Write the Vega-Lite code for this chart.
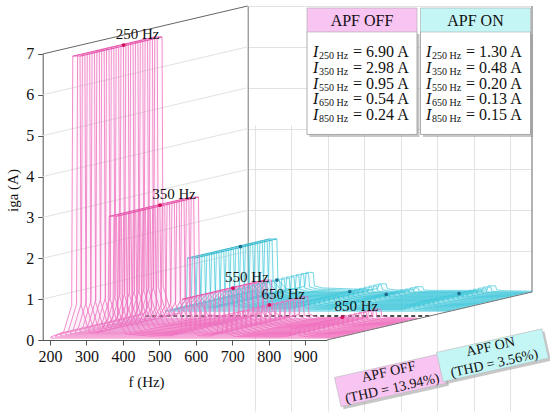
{
  "$schema": "https://vega.github.io/schema/vega-lite/v6.json",
  "width": 550,
  "height": 417,
  "autosize": "none",
  "padding": 0,
  "background": "white",
  "config": {
    "view": {"stroke": null},
    "font": "Liberation Serif",
    "axis": {"labelFont": "Liberation Serif", "titleFont": "Liberation Serif"},
    "style": {"guide-label": {"font": "Liberation Serif"}, "guide-title": {"font": "Liberation Serif"}}
  },
  "datasets": {
    "off": [
      {"f": 180, "A": 0.03}, {"f": 200, "A": 0.1}, {"f": 215, "A": 0.15}, {"f": 237, "A": 0.8}, {"f": 240, "A": 6.9},
      {"f": 260, "A": 6.9}, {"f": 263, "A": 0.8}, {"f": 285, "A": 0.15}, {"f": 300, "A": 0.12}, {"f": 315, "A": 0.15},
      {"f": 337, "A": 0.5}, {"f": 340, "A": 2.98}, {"f": 360, "A": 2.98}, {"f": 363, "A": 0.5}, {"f": 385, "A": 0.1},
      {"f": 450, "A": 0.05}, {"f": 515, "A": 0.06}, {"f": 537, "A": 0.2}, {"f": 540, "A": 0.95}, {"f": 560, "A": 0.95},
      {"f": 563, "A": 0.2}, {"f": 585, "A": 0.06}, {"f": 615, "A": 0.05}, {"f": 637, "A": 0.12}, {"f": 640, "A": 0.54},
      {"f": 660, "A": 0.54}, {"f": 663, "A": 0.12}, {"f": 685, "A": 0.04}, {"f": 750, "A": 0.03}, {"f": 815, "A": 0.03},
      {"f": 837, "A": 0.06}, {"f": 840, "A": 0.24}, {"f": 860, "A": 0.24}, {"f": 863, "A": 0.06}, {"f": 885, "A": 0.03},
      {"f": 960, "A": 0.02}
    ],
    "on": [
      {"f": 180, "A": 0.02}, {"f": 215, "A": 0.05}, {"f": 237, "A": 0.3}, {"f": 240, "A": 1.3}, {"f": 260, "A": 1.3},
      {"f": 263, "A": 0.3}, {"f": 285, "A": 0.08}, {"f": 315, "A": 0.08}, {"f": 337, "A": 0.15}, {"f": 340, "A": 0.48},
      {"f": 360, "A": 0.48}, {"f": 363, "A": 0.15}, {"f": 385, "A": 0.1}, {"f": 450, "A": 0.08}, {"f": 515, "A": 0.06},
      {"f": 537, "A": 0.08}, {"f": 540, "A": 0.2}, {"f": 560, "A": 0.2}, {"f": 563, "A": 0.08}, {"f": 585, "A": 0.05},
      {"f": 615, "A": 0.05}, {"f": 637, "A": 0.05}, {"f": 640, "A": 0.13}, {"f": 660, "A": 0.13}, {"f": 663, "A": 0.05},
      {"f": 685, "A": 0.04}, {"f": 815, "A": 0.04}, {"f": 837, "A": 0.05}, {"f": 840, "A": 0.15}, {"f": 860, "A": 0.15},
      {"f": 863, "A": 0.05}, {"f": 885, "A": 0.03}, {"f": 960, "A": 0.02}
    ],
    "peaksOff": [
      {"f": 250, "A": 6.9, "label": "250 Hz"}, {"f": 350, "A": 2.98, "label": "350 Hz"}, {"f": 550, "A": 0.95, "label": "550 Hz"},
      {"f": 650, "A": 0.54, "label": "650 Hz"}, {"f": 850, "A": 0.24, "label": "850 Hz"}
    ],
    "peaksOn": [
      {"f": 250, "A": 1.3}, {"f": 350, "A": 0.48}, {"f": 550, "A": 0.2}, {"f": 650, "A": 0.13}, {"f": 850, "A": 0.15}
    ],
    "floor": [{"f": 180, "A": 0}, {"f": 960, "A": 0}],
    "depth": [{"d": 0}, {"d": 1}],
    "depthOff": [{"d": 0.04}, {"d": 0.44}],
    "depthOn": [{"d": 0.6}, {"d": 1.0}],
    "headers": [{"col": 0, "series": "OFF", "name": "APF OFF"}, {"col": 1, "series": "ON", "name": "APF ON"}],
    "table": [
      {"col": 0, "row": 1, "sub": "250 Hz", "val": "= 6.90 A"}, {"col": 0, "row": 2, "sub": "350 Hz", "val": "= 2.98 A"},
      {"col": 0, "row": 3, "sub": "550 Hz", "val": "= 0.95 A"}, {"col": 0, "row": 4, "sub": "650 Hz", "val": "= 0.54 A"},
      {"col": 0, "row": 5, "sub": "850 Hz", "val": "= 0.24 A"}, {"col": 1, "row": 1, "sub": "250 Hz", "val": "= 1.30 A"},
      {"col": 1, "row": 2, "sub": "350 Hz", "val": "= 0.48 A"}, {"col": 1, "row": 3, "sub": "550 Hz", "val": "= 0.20 A"},
      {"col": 1, "row": 4, "sub": "650 Hz", "val": "= 0.13 A"}, {"col": 1, "row": 5, "sub": "850 Hz", "val": "= 0.15 A"}
    ],
    "thd": [{"k": 0, "series": "OFF", "name": "APF OFF\n(THD = 13.94%)"}, {"k": 1, "series": "ON", "name": "APF ON\n(THD = 3.56%)"}]
  },
  "resolve": {
    "scale": {"x": "independent", "y": "independent", "color": "independent"},
    "axis": {"x": "independent", "y": "independent"}
  },
  "layer": [
    {"data": {"name": "off"}, "mark": {"type": "point", "opacity": 0},
     "encoding": {
       "x": {"field": "f", "type": "quantitative", "scale": {"domain": [180, 960], "range": [247.7, 532], "nice": false, "zero": false},
             "axis": {"orient": "bottom", "offset": -125, "values": [200, 300, 400, 500, 600, 700, 800, 900], "grid": true, "gridColor": "#e2e2e2", "labels": false, "ticks": false, "domain": false, "title": null}},
       "y": {"field": "A", "type": "quantitative", "scale": {"domain": [0, 7], "range": [292, 6], "nice": false},
             "axis": {"orient": "left", "offset": -247.7, "values": [0, 1, 2, 3, 4, 5, 6, 7], "grid": true, "gridColor": "#e2e2e2", "labels": false, "ticks": false, "domain": true, "domainColor": "#777", "title": null}}}},
    {"data": {"name": "floor"}, "mark": {"type": "rule", "stroke": "#999", "strokeWidth": 1},
     "encoding": {"x": {"datum": 960, "type": "quantitative", "scale": {"domain": [180, 960], "range": [247.7, 532], "nice": false, "zero": false}, "axis": null},
                  "y": {"datum": 0, "type": "quantitative", "scale": {"domain": [0, 7], "range": [292, 6], "nice": false}, "axis": null},
                  "y2": {"datum": 7}}},
    {"data": {"name": "depth"}, "mark": {"type": "line", "stroke": "#e2e2e2", "strokeWidth": 1},
     "encoding": {"x": {"field": "d", "type": "quantitative", "scale": {"domain": [0, 1], "range": [42.7, 247.7], "nice": false, "zero": false}, "axis": null},
                  "y": {"field": "d", "type": "quantitative", "scale": {"domain": [0, 1], "range": [299.14, 251.14], "nice": false, "zero": false}, "axis": null}}},
    {"data": {"name": "depth"}, "mark": {"type": "line", "stroke": "#e2e2e2", "strokeWidth": 1},
     "encoding": {"x": {"field": "d", "type": "quantitative", "scale": {"domain": [0, 1], "range": [42.7, 247.7], "nice": false, "zero": false}, "axis": null},
                  "y": {"field": "d", "type": "quantitative", "scale": {"domain": [0, 1], "range": [258.28, 210.28], "nice": false, "zero": false}, "axis": null}}},
    {"data": {"name": "depth"}, "mark": {"type": "line", "stroke": "#e2e2e2", "strokeWidth": 1},
     "encoding": {"x": {"field": "d", "type": "quantitative", "scale": {"domain": [0, 1], "range": [42.7, 247.7], "nice": false, "zero": false}, "axis": null},
                  "y": {"field": "d", "type": "quantitative", "scale": {"domain": [0, 1], "range": [217.42, 169.42], "nice": false, "zero": false}, "axis": null}}},
    {"data": {"name": "depth"}, "mark": {"type": "line", "stroke": "#e2e2e2", "strokeWidth": 1},
     "encoding": {"x": {"field": "d", "type": "quantitative", "scale": {"domain": [0, 1], "range": [42.7, 247.7], "nice": false, "zero": false}, "axis": null},
                  "y": {"field": "d", "type": "quantitative", "scale": {"domain": [0, 1], "range": [176.56, 128.56], "nice": false, "zero": false}, "axis": null}}},
    {"data": {"name": "depth"}, "mark": {"type": "line", "stroke": "#e2e2e2", "strokeWidth": 1},
     "encoding": {"x": {"field": "d", "type": "quantitative", "scale": {"domain": [0, 1], "range": [42.7, 247.7], "nice": false, "zero": false}, "axis": null},
                  "y": {"field": "d", "type": "quantitative", "scale": {"domain": [0, 1], "range": [135.7, 87.7], "nice": false, "zero": false}, "axis": null}}},
    {"data": {"name": "depth"}, "mark": {"type": "line", "stroke": "#e2e2e2", "strokeWidth": 1},
     "encoding": {"x": {"field": "d", "type": "quantitative", "scale": {"domain": [0, 1], "range": [42.7, 247.7], "nice": false, "zero": false}, "axis": null},
                  "y": {"field": "d", "type": "quantitative", "scale": {"domain": [0, 1], "range": [94.84, 46.84], "nice": false, "zero": false}, "axis": null}}},
    {"data": {"name": "depth"}, "mark": {"type": "line", "stroke": "#666", "strokeWidth": 1},
     "encoding": {"x": {"field": "d", "type": "quantitative", "scale": {"domain": [0, 1], "range": [42.7, 247.7], "nice": false, "zero": false}, "axis": null},
                  "y": {"field": "d", "type": "quantitative", "scale": {"domain": [0, 1], "range": [53.98, 5.98], "nice": false, "zero": false}, "axis": null}}},

    {"data": {"name": "on"}, "mark": {"type": "area", "fill": "#8fe6ee", "fillOpacity": 0.05, "stroke": "#3cc6da", "strokeWidth": 0.7}, "encoding": {"x": {"field": "f", "type": "quantitative", "scale": {"domain": [180, 960], "range": [247.7, 532.0], "nice": false, "zero": false}, "axis": null}, "y": {"field": "A", "type": "quantitative", "scale": {"domain": [0, 7], "range": [292.0, 5.98], "nice": false}, "axis": null}}},
    {"data": {"name": "on"}, "mark": {"type": "area", "fill": "#8fe6ee", "fillOpacity": 0.05, "stroke": "#3cc6da", "strokeWidth": 0.7}, "encoding": {"x": {"field": "f", "type": "quantitative", "scale": {"domain": [180, 960], "range": [242.88, 527.18], "nice": false, "zero": false}, "axis": null}, "y": {"field": "A", "type": "quantitative", "scale": {"domain": [0, 7], "range": [293.13, 7.11], "nice": false}, "axis": null}}},
    {"data": {"name": "on"}, "mark": {"type": "area", "fill": "#8fe6ee", "fillOpacity": 0.05, "stroke": "#3cc6da", "strokeWidth": 0.7}, "encoding": {"x": {"field": "f", "type": "quantitative", "scale": {"domain": [180, 960], "range": [238.05, 522.35], "nice": false, "zero": false}, "axis": null}, "y": {"field": "A", "type": "quantitative", "scale": {"domain": [0, 7], "range": [294.26, 8.24], "nice": false}, "axis": null}}},
    {"data": {"name": "on"}, "mark": {"type": "area", "fill": "#8fe6ee", "fillOpacity": 0.05, "stroke": "#3cc6da", "strokeWidth": 0.7}, "encoding": {"x": {"field": "f", "type": "quantitative", "scale": {"domain": [180, 960], "range": [233.23, 517.53], "nice": false, "zero": false}, "axis": null}, "y": {"field": "A", "type": "quantitative", "scale": {"domain": [0, 7], "range": [295.39, 9.37], "nice": false}, "axis": null}}},
    {"data": {"name": "on"}, "mark": {"type": "area", "fill": "#8fe6ee", "fillOpacity": 0.05, "stroke": "#3cc6da", "strokeWidth": 0.7}, "encoding": {"x": {"field": "f", "type": "quantitative", "scale": {"domain": [180, 960], "range": [228.41, 512.71], "nice": false, "zero": false}, "axis": null}, "y": {"field": "A", "type": "quantitative", "scale": {"domain": [0, 7], "range": [296.52, 10.5], "nice": false}, "axis": null}}},
    {"data": {"name": "on"}, "mark": {"type": "area", "fill": "#8fe6ee", "fillOpacity": 0.05, "stroke": "#3cc6da", "strokeWidth": 0.7}, "encoding": {"x": {"field": "f", "type": "quantitative", "scale": {"domain": [180, 960], "range": [223.58, 507.88], "nice": false, "zero": false}, "axis": null}, "y": {"field": "A", "type": "quantitative", "scale": {"domain": [0, 7], "range": [297.65, 11.63], "nice": false}, "axis": null}}},
    {"data": {"name": "on"}, "mark": {"type": "area", "fill": "#8fe6ee", "fillOpacity": 0.05, "stroke": "#3cc6da", "strokeWidth": 0.7}, "encoding": {"x": {"field": "f", "type": "quantitative", "scale": {"domain": [180, 960], "range": [218.76, 503.06], "nice": false, "zero": false}, "axis": null}, "y": {"field": "A", "type": "quantitative", "scale": {"domain": [0, 7], "range": [298.78, 12.76], "nice": false}, "axis": null}}},
    {"data": {"name": "on"}, "mark": {"type": "area", "fill": "#8fe6ee", "fillOpacity": 0.05, "stroke": "#3cc6da", "strokeWidth": 0.7}, "encoding": {"x": {"field": "f", "type": "quantitative", "scale": {"domain": [180, 960], "range": [213.93, 498.23], "nice": false, "zero": false}, "axis": null}, "y": {"field": "A", "type": "quantitative", "scale": {"domain": [0, 7], "range": [299.91, 13.89], "nice": false}, "axis": null}}},
    {"data": {"name": "on"}, "mark": {"type": "area", "fill": "#8fe6ee", "fillOpacity": 0.05, "stroke": "#3cc6da", "strokeWidth": 0.7}, "encoding": {"x": {"field": "f", "type": "quantitative", "scale": {"domain": [180, 960], "range": [209.11, 493.41], "nice": false, "zero": false}, "axis": null}, "y": {"field": "A", "type": "quantitative", "scale": {"domain": [0, 7], "range": [301.04, 15.02], "nice": false}, "axis": null}}},
    {"data": {"name": "on"}, "mark": {"type": "area", "fill": "#8fe6ee", "fillOpacity": 0.05, "stroke": "#3cc6da", "strokeWidth": 0.7}, "encoding": {"x": {"field": "f", "type": "quantitative", "scale": {"domain": [180, 960], "range": [204.29, 488.59], "nice": false, "zero": false}, "axis": null}, "y": {"field": "A", "type": "quantitative", "scale": {"domain": [0, 7], "range": [302.16, 16.14], "nice": false}, "axis": null}}},
    {"data": {"name": "on"}, "mark": {"type": "area", "fill": "#8fe6ee", "fillOpacity": 0.05, "stroke": "#3cc6da", "strokeWidth": 0.7}, "encoding": {"x": {"field": "f", "type": "quantitative", "scale": {"domain": [180, 960], "range": [199.47, 483.77], "nice": false, "zero": false}, "axis": null}, "y": {"field": "A", "type": "quantitative", "scale": {"domain": [0, 7], "range": [303.29, 17.27], "nice": false}, "axis": null}}},
    {"data": {"name": "on"}, "mark": {"type": "area", "fill": "#8fe6ee", "fillOpacity": 0.05, "stroke": "#3cc6da", "strokeWidth": 0.7}, "encoding": {"x": {"field": "f", "type": "quantitative", "scale": {"domain": [180, 960], "range": [194.64, 478.94], "nice": false, "zero": false}, "axis": null}, "y": {"field": "A", "type": "quantitative", "scale": {"domain": [0, 7], "range": [304.42, 18.4], "nice": false}, "axis": null}}},
    {"data": {"name": "on"}, "mark": {"type": "area", "fill": "#8fe6ee", "fillOpacity": 0.05, "stroke": "#3cc6da", "strokeWidth": 0.7}, "encoding": {"x": {"field": "f", "type": "quantitative", "scale": {"domain": [180, 960], "range": [189.82, 474.12], "nice": false, "zero": false}, "axis": null}, "y": {"field": "A", "type": "quantitative", "scale": {"domain": [0, 7], "range": [305.55, 19.53], "nice": false}, "axis": null}}},
    {"data": {"name": "on"}, "mark": {"type": "area", "fill": "#8fe6ee", "fillOpacity": 0.05, "stroke": "#3cc6da", "strokeWidth": 0.7}, "encoding": {"x": {"field": "f", "type": "quantitative", "scale": {"domain": [180, 960], "range": [184.99, 469.29], "nice": false, "zero": false}, "axis": null}, "y": {"field": "A", "type": "quantitative", "scale": {"domain": [0, 7], "range": [306.68, 20.66], "nice": false}, "axis": null}}},
    {"data": {"name": "on"}, "mark": {"type": "area", "fill": "#8fe6ee", "fillOpacity": 0.05, "stroke": "#3cc6da", "strokeWidth": 0.7}, "encoding": {"x": {"field": "f", "type": "quantitative", "scale": {"domain": [180, 960], "range": [180.17, 464.47], "nice": false, "zero": false}, "axis": null}, "y": {"field": "A", "type": "quantitative", "scale": {"domain": [0, 7], "range": [307.81, 21.79], "nice": false}, "axis": null}}},
    {"data": {"name": "on"}, "mark": {"type": "area", "fill": "#8fe6ee", "fillOpacity": 0.05, "stroke": "#3cc6da", "strokeWidth": 0.7}, "encoding": {"x": {"field": "f", "type": "quantitative", "scale": {"domain": [180, 960], "range": [175.35, 459.65], "nice": false, "zero": false}, "axis": null}, "y": {"field": "A", "type": "quantitative", "scale": {"domain": [0, 7], "range": [308.94, 22.92], "nice": false}, "axis": null}}},
    {"data": {"name": "on"}, "mark": {"type": "area", "fill": "#8fe6ee", "fillOpacity": 0.05, "stroke": "#3cc6da", "strokeWidth": 0.7}, "encoding": {"x": {"field": "f", "type": "quantitative", "scale": {"domain": [180, 960], "range": [170.52, 454.82], "nice": false, "zero": false}, "axis": null}, "y": {"field": "A", "type": "quantitative", "scale": {"domain": [0, 7], "range": [310.07, 24.05], "nice": false}, "axis": null}}},
    {"data": {"name": "on"}, "mark": {"type": "area", "fill": "#8fe6ee", "fillOpacity": 0.05, "stroke": "#3cc6da", "strokeWidth": 0.7}, "encoding": {"x": {"field": "f", "type": "quantitative", "scale": {"domain": [180, 960], "range": [165.7, 450.0], "nice": false, "zero": false}, "axis": null}, "y": {"field": "A", "type": "quantitative", "scale": {"domain": [0, 7], "range": [311.2, 25.18], "nice": false}, "axis": null}}},
    {"data": {"name": "depthOn"}, "mark": {"type": "line", "stroke": "#2fb4c8", "strokeWidth": 0.9},
     "encoding": {"x": {"field": "d", "type": "quantitative", "scale": {"domain": [0, 1], "range": [64.57, 269.57], "nice": false, "zero": false}, "axis": null},
                  "y": {"field": "d", "type": "quantitative", "scale": {"domain": [0, 1], "range": [286.88, 238.88], "nice": false, "zero": false}, "axis": null}}},
    {"data": {"name": "depthOn"}, "mark": {"type": "line", "stroke": "#2fb4c8", "strokeWidth": 0.9},
     "encoding": {"x": {"field": "d", "type": "quantitative", "scale": {"domain": [0, 1], "range": [71.86, 276.86], "nice": false, "zero": false}, "axis": null},
                  "y": {"field": "d", "type": "quantitative", "scale": {"domain": [0, 1], "range": [286.88, 238.88], "nice": false, "zero": false}, "axis": null}}},
    {"data": {"name": "peaksOn"}, "mark": {"type": "point", "filled": true, "size": 14, "color": "#1d6f8c", "opacity": 1},
     "encoding": {"x": {"field": "f", "type": "quantitative", "scale": {"domain": [180, 960], "range": [214.9, 499.2], "nice": false, "zero": false}, "axis": null},
                  "y": {"field": "A", "type": "quantitative", "scale": {"domain": [0, 7], "range": [299.7, 13.7], "nice": false}, "axis": null}}},
    {"data": {"name": "floor"}, "mark": {"type": "line", "stroke": "#111", "strokeWidth": 1.3, "strokeDash": [4, 3]},
     "encoding": {"x": {"field": "f", "type": "quantitative", "scale": {"domain": [180, 960], "range": [145.2, 429.5], "nice": false, "zero": false}, "axis": null},
                  "y": {"field": "A", "type": "quantitative", "scale": {"domain": [0, 7], "range": [316, 30], "nice": false}, "axis": null}}},

    {"data": {"name": "off"}, "mark": {"type": "area", "fill": "#f59ad2", "fillOpacity": 0.05, "stroke": "#f06ebe", "strokeWidth": 0.8}, "encoding": {"x": {"field": "f", "type": "quantitative", "scale": {"domain": [180, 960], "range": [132.9, 417.2], "nice": false, "zero": false}, "axis": null}, "y": {"field": "A", "type": "quantitative", "scale": {"domain": [0, 7], "range": [318.88, 32.86], "nice": false}, "axis": null}}},
    {"data": {"name": "off"}, "mark": {"type": "area", "fill": "#f59ad2", "fillOpacity": 0.05, "stroke": "#f06ebe", "strokeWidth": 0.8}, "encoding": {"x": {"field": "f", "type": "quantitative", "scale": {"domain": [180, 960], "range": [128.08, 412.38], "nice": false, "zero": false}, "axis": null}, "y": {"field": "A", "type": "quantitative", "scale": {"domain": [0, 7], "range": [320.01, 33.99], "nice": false}, "axis": null}}},
    {"data": {"name": "off"}, "mark": {"type": "area", "fill": "#f59ad2", "fillOpacity": 0.05, "stroke": "#f06ebe", "strokeWidth": 0.8}, "encoding": {"x": {"field": "f", "type": "quantitative", "scale": {"domain": [180, 960], "range": [123.25, 407.55], "nice": false, "zero": false}, "axis": null}, "y": {"field": "A", "type": "quantitative", "scale": {"domain": [0, 7], "range": [321.14, 35.12], "nice": false}, "axis": null}}},
    {"data": {"name": "off"}, "mark": {"type": "area", "fill": "#f59ad2", "fillOpacity": 0.05, "stroke": "#f06ebe", "strokeWidth": 0.8}, "encoding": {"x": {"field": "f", "type": "quantitative", "scale": {"domain": [180, 960], "range": [118.43, 402.73], "nice": false, "zero": false}, "axis": null}, "y": {"field": "A", "type": "quantitative", "scale": {"domain": [0, 7], "range": [322.27, 36.25], "nice": false}, "axis": null}}},
    {"data": {"name": "off"}, "mark": {"type": "area", "fill": "#f59ad2", "fillOpacity": 0.05, "stroke": "#f06ebe", "strokeWidth": 0.8}, "encoding": {"x": {"field": "f", "type": "quantitative", "scale": {"domain": [180, 960], "range": [113.61, 397.91], "nice": false, "zero": false}, "axis": null}, "y": {"field": "A", "type": "quantitative", "scale": {"domain": [0, 7], "range": [323.4, 37.38], "nice": false}, "axis": null}}},
    {"data": {"name": "off"}, "mark": {"type": "area", "fill": "#f59ad2", "fillOpacity": 0.05, "stroke": "#f06ebe", "strokeWidth": 0.8}, "encoding": {"x": {"field": "f", "type": "quantitative", "scale": {"domain": [180, 960], "range": [108.78, 393.08], "nice": false, "zero": false}, "axis": null}, "y": {"field": "A", "type": "quantitative", "scale": {"domain": [0, 7], "range": [324.53, 38.51], "nice": false}, "axis": null}}},
    {"data": {"name": "off"}, "mark": {"type": "area", "fill": "#f59ad2", "fillOpacity": 0.05, "stroke": "#f06ebe", "strokeWidth": 0.8}, "encoding": {"x": {"field": "f", "type": "quantitative", "scale": {"domain": [180, 960], "range": [103.96, 388.26], "nice": false, "zero": false}, "axis": null}, "y": {"field": "A", "type": "quantitative", "scale": {"domain": [0, 7], "range": [325.66, 39.64], "nice": false}, "axis": null}}},
    {"data": {"name": "off"}, "mark": {"type": "area", "fill": "#f59ad2", "fillOpacity": 0.05, "stroke": "#f06ebe", "strokeWidth": 0.8}, "encoding": {"x": {"field": "f", "type": "quantitative", "scale": {"domain": [180, 960], "range": [99.13, 383.43], "nice": false, "zero": false}, "axis": null}, "y": {"field": "A", "type": "quantitative", "scale": {"domain": [0, 7], "range": [326.79, 40.77], "nice": false}, "axis": null}}},
    {"data": {"name": "off"}, "mark": {"type": "area", "fill": "#f59ad2", "fillOpacity": 0.05, "stroke": "#f06ebe", "strokeWidth": 0.8}, "encoding": {"x": {"field": "f", "type": "quantitative", "scale": {"domain": [180, 960], "range": [94.31, 378.61], "nice": false, "zero": false}, "axis": null}, "y": {"field": "A", "type": "quantitative", "scale": {"domain": [0, 7], "range": [327.92, 41.9], "nice": false}, "axis": null}}},
    {"data": {"name": "off"}, "mark": {"type": "area", "fill": "#f59ad2", "fillOpacity": 0.05, "stroke": "#f06ebe", "strokeWidth": 0.8}, "encoding": {"x": {"field": "f", "type": "quantitative", "scale": {"domain": [180, 960], "range": [89.49, 373.79], "nice": false, "zero": false}, "axis": null}, "y": {"field": "A", "type": "quantitative", "scale": {"domain": [0, 7], "range": [329.04, 43.02], "nice": false}, "axis": null}}},
    {"data": {"name": "off"}, "mark": {"type": "area", "fill": "#f59ad2", "fillOpacity": 0.05, "stroke": "#f06ebe", "strokeWidth": 0.8}, "encoding": {"x": {"field": "f", "type": "quantitative", "scale": {"domain": [180, 960], "range": [84.66, 368.96], "nice": false, "zero": false}, "axis": null}, "y": {"field": "A", "type": "quantitative", "scale": {"domain": [0, 7], "range": [330.17, 44.15], "nice": false}, "axis": null}}},
    {"data": {"name": "off"}, "mark": {"type": "area", "fill": "#f59ad2", "fillOpacity": 0.05, "stroke": "#f06ebe", "strokeWidth": 0.8}, "encoding": {"x": {"field": "f", "type": "quantitative", "scale": {"domain": [180, 960], "range": [79.84, 364.14], "nice": false, "zero": false}, "axis": null}, "y": {"field": "A", "type": "quantitative", "scale": {"domain": [0, 7], "range": [331.3, 45.28], "nice": false}, "axis": null}}},
    {"data": {"name": "off"}, "mark": {"type": "area", "fill": "#f59ad2", "fillOpacity": 0.05, "stroke": "#f06ebe", "strokeWidth": 0.8}, "encoding": {"x": {"field": "f", "type": "quantitative", "scale": {"domain": [180, 960], "range": [75.02, 359.32], "nice": false, "zero": false}, "axis": null}, "y": {"field": "A", "type": "quantitative", "scale": {"domain": [0, 7], "range": [332.43, 46.41], "nice": false}, "axis": null}}},
    {"data": {"name": "off"}, "mark": {"type": "area", "fill": "#f59ad2", "fillOpacity": 0.05, "stroke": "#f06ebe", "strokeWidth": 0.8}, "encoding": {"x": {"field": "f", "type": "quantitative", "scale": {"domain": [180, 960], "range": [70.19, 354.49], "nice": false, "zero": false}, "axis": null}, "y": {"field": "A", "type": "quantitative", "scale": {"domain": [0, 7], "range": [333.56, 47.54], "nice": false}, "axis": null}}},
    {"data": {"name": "off"}, "mark": {"type": "area", "fill": "#f59ad2", "fillOpacity": 0.05, "stroke": "#f06ebe", "strokeWidth": 0.8}, "encoding": {"x": {"field": "f", "type": "quantitative", "scale": {"domain": [180, 960], "range": [65.37, 349.67], "nice": false, "zero": false}, "axis": null}, "y": {"field": "A", "type": "quantitative", "scale": {"domain": [0, 7], "range": [334.69, 48.67], "nice": false}, "axis": null}}},
    {"data": {"name": "off"}, "mark": {"type": "area", "fill": "#f59ad2", "fillOpacity": 0.05, "stroke": "#f06ebe", "strokeWidth": 0.8}, "encoding": {"x": {"field": "f", "type": "quantitative", "scale": {"domain": [180, 960], "range": [60.55, 344.85], "nice": false, "zero": false}, "axis": null}, "y": {"field": "A", "type": "quantitative", "scale": {"domain": [0, 7], "range": [335.82, 49.8], "nice": false}, "axis": null}}},
    {"data": {"name": "off"}, "mark": {"type": "area", "fill": "#f59ad2", "fillOpacity": 0.05, "stroke": "#f06ebe", "strokeWidth": 0.8}, "encoding": {"x": {"field": "f", "type": "quantitative", "scale": {"domain": [180, 960], "range": [55.72, 340.02], "nice": false, "zero": false}, "axis": null}, "y": {"field": "A", "type": "quantitative", "scale": {"domain": [0, 7], "range": [336.95, 50.93], "nice": false}, "axis": null}}},
    {"data": {"name": "off"}, "mark": {"type": "area", "fill": "#f59ad2", "fillOpacity": 0.05, "stroke": "#f06ebe", "strokeWidth": 0.8}, "encoding": {"x": {"field": "f", "type": "quantitative", "scale": {"domain": [180, 960], "range": [50.9, 335.2], "nice": false, "zero": false}, "axis": null}, "y": {"field": "A", "type": "quantitative", "scale": {"domain": [0, 7], "range": [338.08, 52.06], "nice": false}, "axis": null}}},
    {"data": {"name": "depthOff"}, "mark": {"type": "line", "stroke": "#e24aa4", "strokeWidth": 0.9},
     "encoding": {"x": {"field": "d", "type": "quantitative", "scale": {"domain": [0, 1], "range": [64.57, 269.57], "nice": false, "zero": false}, "axis": null},
                  "y": {"field": "d", "type": "quantitative", "scale": {"domain": [0, 1], "range": [58.07, 10.07], "nice": false, "zero": false}, "axis": null}}},
    {"data": {"name": "depthOff"}, "mark": {"type": "line", "stroke": "#e24aa4", "strokeWidth": 0.9},
     "encoding": {"x": {"field": "d", "type": "quantitative", "scale": {"domain": [0, 1], "range": [71.86, 276.86], "nice": false, "zero": false}, "axis": null},
                  "y": {"field": "d", "type": "quantitative", "scale": {"domain": [0, 1], "range": [58.07, 10.07], "nice": false, "zero": false}, "axis": null}}},
    {"data": {"name": "depthOff"}, "mark": {"type": "line", "stroke": "#e24aa4", "strokeWidth": 0.9},
     "encoding": {"x": {"field": "d", "type": "quantitative", "scale": {"domain": [0, 1], "range": [101.02, 306.02], "nice": false, "zero": false}, "axis": null},
                  "y": {"field": "d", "type": "quantitative", "scale": {"domain": [0, 1], "range": [218.24, 170.24], "nice": false, "zero": false}, "axis": null}}},
    {"data": {"name": "depthOff"}, "mark": {"type": "line", "stroke": "#e24aa4", "strokeWidth": 0.9},
     "encoding": {"x": {"field": "d", "type": "quantitative", "scale": {"domain": [0, 1], "range": [108.31, 313.31], "nice": false, "zero": false}, "axis": null},
                  "y": {"field": "d", "type": "quantitative", "scale": {"domain": [0, 1], "range": [218.24, 170.24], "nice": false, "zero": false}, "axis": null}}},
    {"data": {"name": "depthOff"}, "mark": {"type": "line", "stroke": "#e24aa4", "strokeWidth": 0.9},
     "encoding": {"x": {"field": "d", "type": "quantitative", "scale": {"domain": [0, 1], "range": [173.9, 378.9], "nice": false, "zero": false}, "axis": null},
                  "y": {"field": "d", "type": "quantitative", "scale": {"domain": [0, 1], "range": [301.2, 253.2], "nice": false, "zero": false}, "axis": null}}},
    {"data": {"name": "peaksOff"}, "mark": {"type": "point", "filled": true, "size": 14, "color": "#d10f5a", "opacity": 1},
     "encoding": {"x": {"field": "f", "type": "quantitative", "scale": {"domain": [180, 960], "range": [98.1, 382.4], "nice": false, "zero": false}, "axis": null},
                  "y": {"field": "A", "type": "quantitative", "scale": {"domain": [0, 7], "range": [327.0, 41.0], "nice": false}, "axis": null}}},
    {"data": {"name": "peaksOff"}, "mark": {"type": "text", "font": "Liberation Serif", "fontSize": 15, "color": "#111", "align": "center", "baseline": "middle", "dx": 14, "dy": -11},
     "encoding": {"x": {"field": "f", "type": "quantitative", "scale": {"domain": [180, 960], "range": [98.1, 382.4], "nice": false, "zero": false}, "axis": null},
                  "y": {"field": "A", "type": "quantitative", "scale": {"domain": [0, 7], "range": [327.0, 41.0], "nice": false}, "axis": null},
                  "text": {"field": "label"}}},

    {"data": {"name": "peaksOff"}, "mark": {"type": "point", "opacity": 0},
     "encoding": {
       "x": {"field": "f", "type": "quantitative", "scale": {"domain": [180, 960], "range": [42.7, 327], "nice": false, "zero": false},
             "axis": {"orient": "bottom", "offset": -77, "values": [200, 300, 400, 500, 600, 700, 800, 900], "grid": false, "domainColor": "#555", "tickColor": "#555", "tickSize": 5,
                      "labelFont": "Liberation Serif", "labelFontSize": 16, "labelColor": "#111", "labelPadding": 3,
                      "title": "f (Hz)", "titleFont": "Liberation Serif", "titleFontSize": 15, "titleFontWeight": "normal", "titleColor": "#111", "titleX": 146, "titleY": 41, "titleBaseline": "middle"}},
       "y": {"field": "A", "type": "quantitative", "scale": {"domain": [0, 7], "range": [340, 53.98], "nice": false},
             "axis": {"orient": "left", "offset": -42.7, "values": [0, 1, 2, 3, 4, 5, 6, 7], "grid": false, "domainColor": "#555", "tickColor": "#555", "tickSize": 5,
                      "labelFont": "Liberation Serif", "labelFontSize": 16, "labelColor": "#111", "labelPadding": 4,
                      "title": "iga (A)", "titleFont": "Liberation Serif", "titleFontSize": 15, "titleFontWeight": "normal", "titleColor": "#111", "titleX": -30, "titleY": 190, "titleAlign": "center", "titleBaseline": "middle"}}}},
    {"data": {"name": "depth"}, "mark": {"type": "line", "stroke": "#777", "strokeWidth": 1},
     "encoding": {"x": {"field": "d", "type": "quantitative", "scale": {"domain": [0, 1], "range": [327, 532], "nice": false, "zero": false}, "axis": null},
                  "y": {"field": "d", "type": "quantitative", "scale": {"domain": [0, 1], "range": [340, 292], "nice": false, "zero": false}, "axis": null}}},

    {"data": {"name": "headers"}, "mark": {"type": "point", "filled": true, "opacity": 0.55, "color": "#999", "shape": "M-1,-0.936L1,-0.936L1,0.936L-1,0.936Z", "size": 12100},
     "encoding": {"x": {"field": "col", "type": "quantitative", "scale": {"domain": [0, 1], "range": [364.5, 478], "nice": false, "zero": false}, "axis": null},
                  "y": {"datum": 3, "type": "quantitative", "scale": {"domain": [1, 5], "range": [54.5, 116.5], "nice": false, "zero": false}, "axis": null}}},
    {"data": {"name": "headers"}, "mark": {"type": "point", "filled": true, "opacity": 1, "color": "white", "stroke": "#999", "strokeWidth": 0.8, "shape": "M-1,-0.936L1,-0.936L1,0.936L-1,0.936Z", "size": 12100},
     "encoding": {"x": {"field": "col", "type": "quantitative", "scale": {"domain": [0, 1], "range": [362, 475.5], "nice": false, "zero": false}, "axis": null},
                  "y": {"datum": 3, "type": "quantitative", "scale": {"domain": [1, 5], "range": [52, 114], "nice": false, "zero": false}, "axis": null}}},
    {"data": {"name": "headers"}, "mark": {"type": "point", "filled": true, "opacity": 1, "stroke": "#aaa", "strokeWidth": 0.6, "shape": "M-1,-0.218L1,-0.218L1,0.218L-1,0.218Z", "size": 12100},
     "encoding": {"x": {"field": "col", "type": "quantitative", "scale": {"domain": [0, 1], "range": [362, 475.5], "nice": false, "zero": false}, "axis": null},
                  "y": {"datum": 0, "type": "quantitative", "scale": {"domain": [0, 1], "range": [20, 40], "nice": false, "zero": false}, "axis": null},
                  "color": {"field": "series", "type": "nominal", "scale": {"domain": ["OFF", "ON"], "range": ["#f8c4f2", "#c4f6f6"]}, "legend": null}}},
    {"data": {"name": "headers"}, "mark": {"type": "text", "font": "Liberation Serif", "fontSize": 16, "color": "#111", "align": "center", "baseline": "middle"},
     "encoding": {"x": {"field": "col", "type": "quantitative", "scale": {"domain": [0, 1], "range": [362, 475.5], "nice": false, "zero": false}, "axis": null},
                  "y": {"datum": 0, "type": "quantitative", "scale": {"domain": [0, 1], "range": [21, 41], "nice": false, "zero": false}, "axis": null},
                  "text": {"field": "name"}}},
    {"data": {"name": "table"}, "mark": {"type": "text", "text": "I", "font": "Liberation Serif", "fontStyle": "italic", "fontSize": 16, "color": "#111", "align": "left", "baseline": "middle"},
     "encoding": {"x": {"field": "col", "type": "quantitative", "scale": {"domain": [0, 1], "range": [313, 426], "nice": false, "zero": false}, "axis": null},
                  "y": {"field": "row", "type": "quantitative", "scale": {"domain": [1, 5], "range": [52, 115], "nice": false, "zero": false}, "axis": null}}},
    {"data": {"name": "table"}, "mark": {"type": "text", "font": "Liberation Serif", "fontSize": 10, "color": "#111", "align": "left", "baseline": "middle", "dx": 6, "dy": 4},
     "encoding": {"x": {"field": "col", "type": "quantitative", "scale": {"domain": [0, 1], "range": [313, 426], "nice": false, "zero": false}, "axis": null},
                  "y": {"field": "row", "type": "quantitative", "scale": {"domain": [1, 5], "range": [52, 115], "nice": false, "zero": false}, "axis": null},
                  "text": {"field": "sub"}}},
    {"data": {"name": "table"}, "mark": {"type": "text", "font": "Liberation Serif", "fontSize": 16, "color": "#111", "align": "left", "baseline": "middle", "dx": 40},
     "encoding": {"x": {"field": "col", "type": "quantitative", "scale": {"domain": [0, 1], "range": [313, 426], "nice": false, "zero": false}, "axis": null},
                  "y": {"field": "row", "type": "quantitative", "scale": {"domain": [1, 5], "range": [52, 115], "nice": false, "zero": false}, "axis": null},
                  "text": {"field": "val"}}},

    {"data": {"name": "thd"}, "mark": {"type": "point", "filled": true, "opacity": 0.55, "color": "#999", "angle": -12.6, "shape": "M-1,-0.278L1,-0.278L1,0.278L-1,0.278Z", "size": 11664},
     "encoding": {"x": {"field": "k", "type": "quantitative", "scale": {"domain": [0, 1], "range": [393, 495], "nice": false, "zero": false}, "axis": null},
                  "y": {"field": "k", "type": "quantitative", "scale": {"domain": [0, 1], "range": [382.8, 357.8], "nice": false, "zero": false}, "axis": null}}},
    {"data": {"name": "thd"}, "mark": {"type": "point", "filled": true, "opacity": 1, "stroke": "#bbb", "strokeWidth": 0.6, "angle": -12.6, "shape": "M-1,-0.278L1,-0.278L1,0.278L-1,0.278Z", "size": 11664},
     "encoding": {"x": {"field": "k", "type": "quantitative", "scale": {"domain": [0, 1], "range": [390.5, 492.5], "nice": false, "zero": false}, "axis": null},
                  "y": {"field": "k", "type": "quantitative", "scale": {"domain": [0, 1], "range": [380.3, 355.3], "nice": false, "zero": false}, "axis": null},
                  "color": {"field": "series", "type": "nominal", "scale": {"domain": ["OFF", "ON"], "range": ["#f8c4f2", "#c4f6f6"]}, "legend": null}}},
    {"data": {"name": "thd"}, "mark": {"type": "text", "font": "Liberation Serif", "fontSize": 14, "color": "#111", "align": "center", "baseline": "middle", "angle": -12.6, "lineBreak": "\n", "lineHeight": 17},
     "encoding": {"x": {"field": "k", "type": "quantitative", "scale": {"domain": [0, 1], "range": [388.6, 490.6], "nice": false, "zero": false}, "axis": null},
                  "y": {"field": "k", "type": "quantitative", "scale": {"domain": [0, 1], "range": [372, 347], "nice": false, "zero": false}, "axis": null},
                  "text": {"field": "name"}}}
  ]
}
